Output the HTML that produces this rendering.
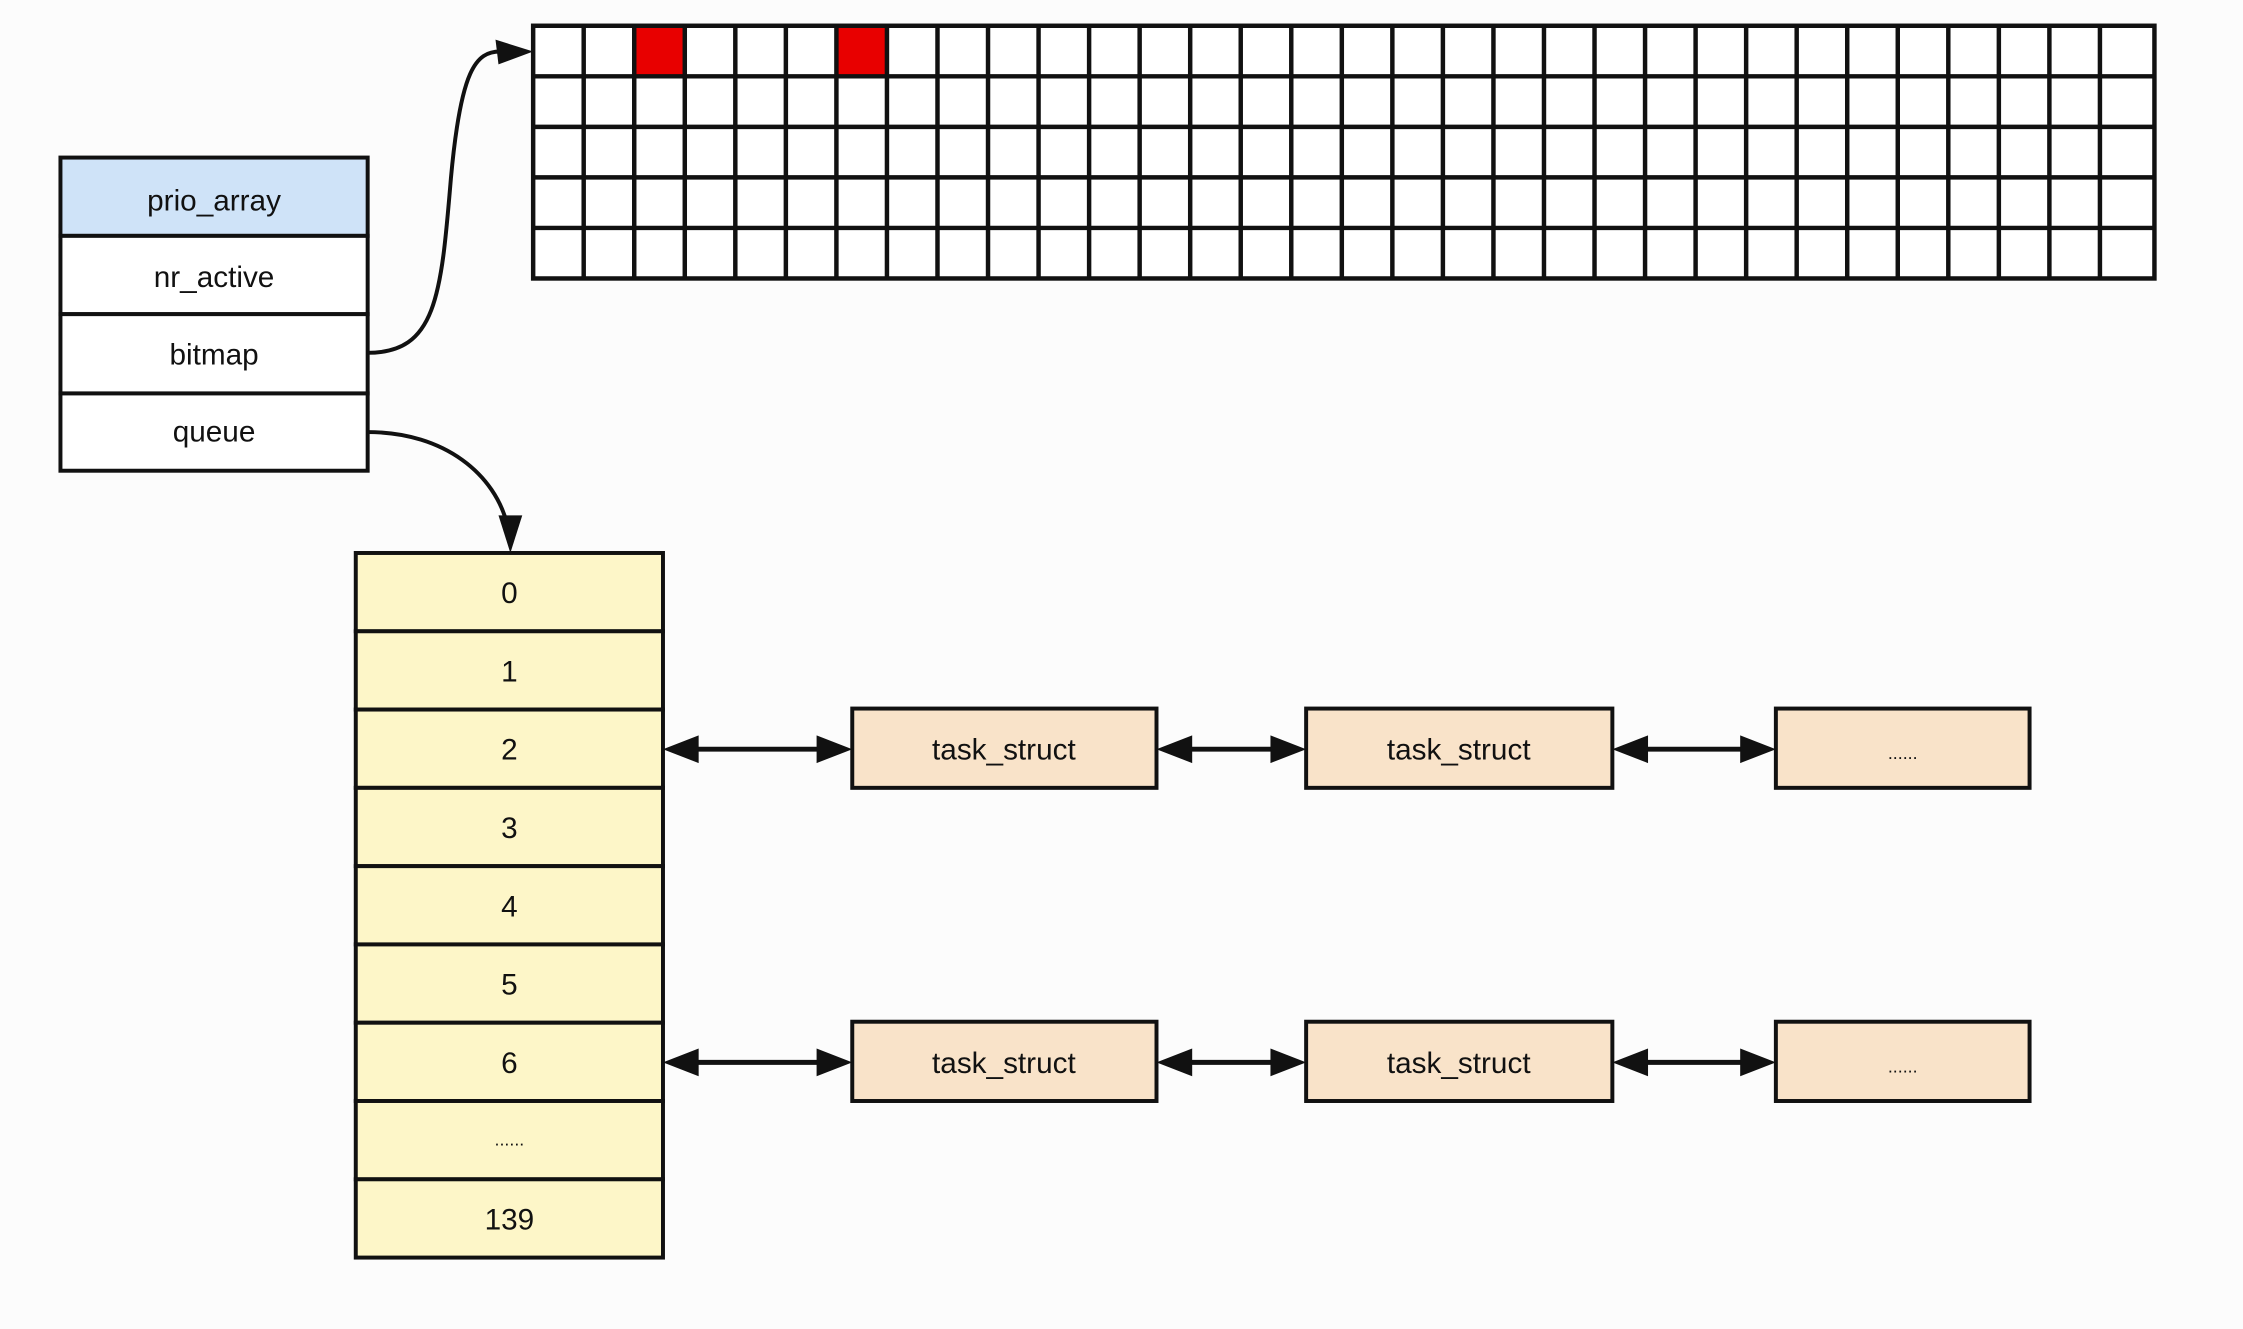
<!DOCTYPE html>
<html><head><meta charset="utf-8"><style>
html,body{margin:0;padding:0;background:#fcfcfc;}
svg{display:block}
text{font-family:"Liberation Sans",sans-serif;font-size:30px;fill:#111;text-anchor:middle;dominant-baseline:central}
</style></head><body>
<svg width="2243" height="1329" viewBox="0 0 2243 1329" xmlns="http://www.w3.org/2000/svg">
<g transform="scale(0.991)">
<g stroke="#111" stroke-width="4">
<rect x="61" y="159" width="310" height="79" fill="#cfe3f8"/>
<rect x="61" y="238" width="310" height="79" fill="#fff"/>
<rect x="61" y="317" width="310" height="80" fill="#fff"/>
<rect x="61" y="397" width="310" height="78" fill="#fff"/>
</g>
<text x="216" y="203">prio_array</text>
<text x="216" y="280">nr_active</text>
<text x="216" y="358">bitmap</text>
<text x="216" y="436">queue</text>

<rect x="538" y="26" width="1636" height="255" fill="#fff"/>
<rect x="641" y="28" width="49" height="49" fill="#e80000"/>
<rect x="845" y="28" width="49" height="49" fill="#e80000"/>
<g stroke="#111" stroke-width="4.5" fill="none">
<rect x="538" y="26" width="1636" height="255"/>
<path d="M538 77H2174M538 128H2174M538 179H2174M538 230H2174"/>
<path d="M589 26V281M640 26V281M691 26V281M742 26V281M793 26V281M844 26V281M895 26V281M946 26V281M997 26V281M1048 26V281M1099 26V281M1150 26V281M1201 26V281M1252 26V281M1303 26V281M1354 26V281M1405 26V281M1456 26V281M1507 26V281M1558 26V281M1609 26V281M1660 26V281M1711 26V281M1762 26V281M1813 26V281M1864 26V281M1915 26V281M1966 26V281M2017 26V281M2068 26V281M2119 26V281"/>
</g>

<g stroke="#111" stroke-width="4" fill="none">
<path d="M371 356 C440 356 445 300 455 180 C465 70 480 52 505 52"/>
<path d="M371 436 C450 436 500 480 512 530"/>
</g>
<polygon points="538,52 500,40 503,65" fill="#111"/>
<polygon points="515,558 503,520 527,520" fill="#111"/>

<g stroke="#111" stroke-width="4" fill="#fdf6c8">
<rect x="359" y="558" width="310" height="79"/>
<rect x="359" y="637" width="310" height="79"/>
<rect x="359" y="716" width="310" height="79"/>
<rect x="359" y="795" width="310" height="79"/>
<rect x="359" y="874" width="310" height="79"/>
<rect x="359" y="953" width="310" height="79"/>
<rect x="359" y="1032" width="310" height="79"/>
<rect x="359" y="1111" width="310" height="79"/>
<rect x="359" y="1190" width="310" height="79"/>
</g>
<text x="514" y="599">0</text>
<text x="514" y="678">1</text>
<text x="514" y="757">2</text>
<text x="514" y="836">3</text>
<text x="514" y="915">4</text>
<text x="514" y="994">5</text>
<text x="514" y="1073">6</text>
<text x="514" y="1150" style="font-size:18px">......</text>
<text x="514" y="1231">139</text>

<g stroke="#111" stroke-width="4" fill="#f9e3c9">
<rect x="860" y="715" width="307" height="80"/>
<rect x="1318" y="715" width="309" height="80"/>
<rect x="1792" y="715" width="256" height="80"/>
<rect x="860" y="1031" width="307" height="80"/>
<rect x="1318" y="1031" width="309" height="80"/>
<rect x="1792" y="1031" width="256" height="80"/>
</g>
<text x="1013" y="757">task_struct</text>
<text x="1472" y="757">task_struct</text>
<text x="1920" y="760" style="font-size:18px">......</text>
<text x="1013" y="1073">task_struct</text>
<text x="1472" y="1073">task_struct</text>
<text x="1920" y="1076" style="font-size:18px">......</text>

<g stroke="#111" stroke-width="5">
<path d="M700 756H830M1197 756H1288M1657 756H1762M700 1072H830M1197 1072H1288M1657 1072H1762"/>
</g>
<g fill="#111">
<polygon points="669,756 705,742 705,770"/><polygon points="860,756 824,742 824,770"/>
<polygon points="1167,756 1203,742 1203,770"/><polygon points="1318,756 1282,742 1282,770"/>
<polygon points="1627,756 1663,742 1663,770"/><polygon points="1792,756 1756,742 1756,770"/>
<polygon points="669,1072 705,1058 705,1086"/><polygon points="860,1072 824,1058 824,1086"/>
<polygon points="1167,1072 1203,1058 1203,1086"/><polygon points="1318,1072 1282,1058 1282,1086"/>
<polygon points="1627,1072 1663,1058 1663,1086"/><polygon points="1792,1072 1756,1058 1756,1086"/>
</g>
</g>
</svg>
</body></html>
